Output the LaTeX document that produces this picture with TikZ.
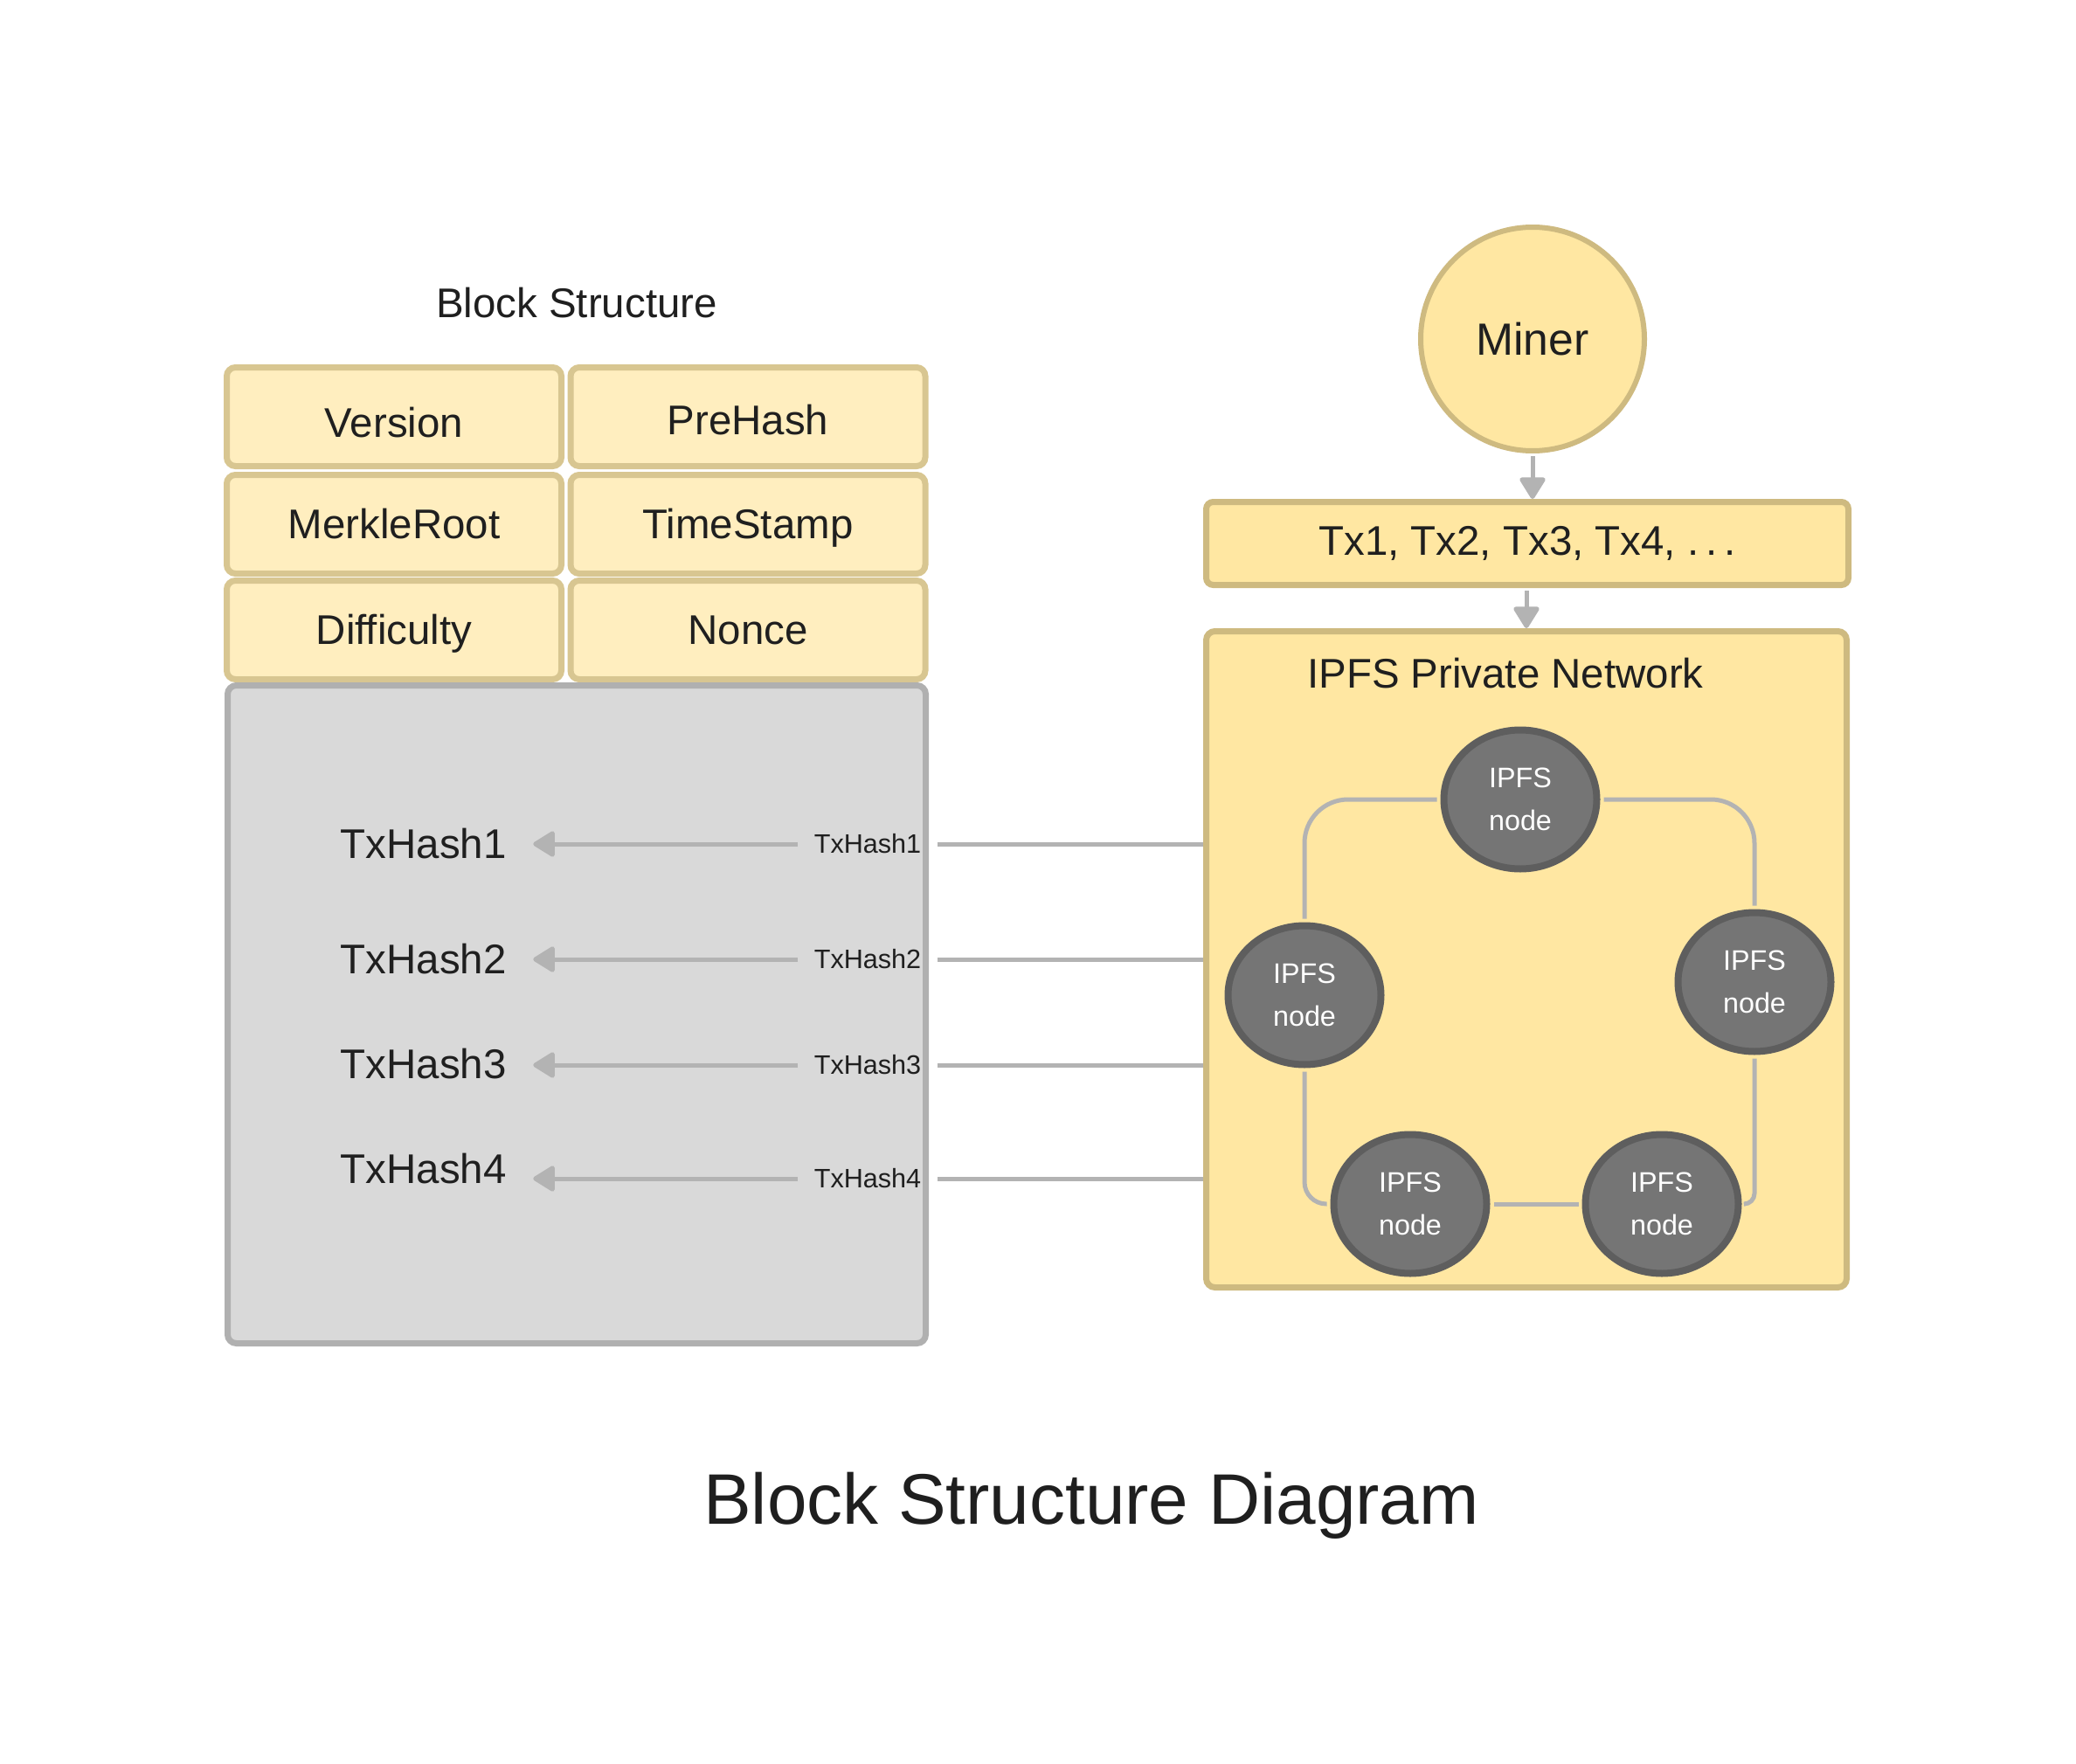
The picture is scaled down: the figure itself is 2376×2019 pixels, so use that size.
\documentclass[tikz,border=0pt]{standalone}
\usepackage{fontspec}
\setmainfont{Liberation Sans}
\usepackage{xcolor}
\usepackage{tikz}
\usetikzlibrary{shapes}
\usetikzlibrary{arrows.meta, positioning}

\definecolor{fieldfill}{HTML}{FFEEBF}
\definecolor{fieldline}{HTML}{D8C691}
\definecolor{netfill}{HTML}{FFE7A2}
\definecolor{netline}{HTML}{CEBA80}
\definecolor{bodyfill}{HTML}{D9D9D9}
\definecolor{bodyline}{HTML}{B0B0B0}
\definecolor{peerfill}{HTML}{757575}
\definecolor{peerline}{HTML}{5E5E5E}
\definecolor{linkgray}{HTML}{B3B3B3}
\definecolor{inkdark}{HTML}{1F1F1F}

\newcommand{\mainsize}{\fontsize{13.5pt}{16pt}\selectfont}
\newcommand{\smallsize}{\fontsize{8.7pt}{10pt}\selectfont}

\tikzset{
    plain/.style = {text=inkdark, font=\mainsize, inner sep=0pt},
    field/.style = {draw=fieldline, fill=fieldfill, line width=0.7mm, rounded corners=1mm,
                    minimum height=11.3mm, text=inkdark, font=\mainsize,
                    text height=1.8ex, text depth=0.07ex},
    txbody/.style = {draw=bodyline, fill=bodyfill, line width=0.7mm, rounded corners=1mm,
                     minimum width=79.9mm, minimum height=75.3mm},
    hash/.style = {plain, anchor=west, text height=1.7ex, text depth=0.07ex},
    hashlabel/.style = {text=inkdark, font=\smallsize, inner xsep=1.8mm, inner ysep=0pt},
    miner/.style = {circle, draw=netline, fill=netfill, line width=0.6mm, minimum size=25.6mm,
                    text=inkdark, font=\fontsize{14.7pt}{17pt}\selectfont},
    txlist/.style = {draw=netline, fill=netfill, line width=0.7mm, rounded corners=0.8mm,
                     minimum width=73.5mm, minimum height=9.5mm, text=inkdark, font=\mainsize},
    network/.style = {draw=netline, fill=netfill, line width=0.7mm, rounded corners=1mm,
                      minimum width=73.3mm, minimum height=75.1mm},
    peer/.style = {ellipse, draw=peerline, fill=peerfill, line width=0.8mm, inner sep=0pt,
                   minimum width=17.5mm, minimum height=15.9mm, text=white, align=center,
                   font=\fontsize{9.2pt}{13.9pt}\selectfont},
    flow/.style = {draw=linkgray, line width=0.5mm, -{Triangle[length=2.7mm, width=3.2mm, round]}},
    link/.style = {draw=linkgray, line width=0.5mm},
    ring/.style = {draw=linkgray, line width=0.5mm, shorten <=0.4mm, shorten >=0.4mm}
}

\begin{document}
\begin{tikzpicture}[x=0.1mm, y=-0.1mm]
    \useasboundingbox (0,0) rectangle (2376,2019);

    % block structure
    \node (head) at (660,347) [plain] {Block Structure};
    \node (ver) at (451,477) [field, minimum width=38.3mm, text height=2.65ex] {Version};
    \node (pre) at (856,477) [field, minimum width=40.6mm, text height=2.3ex] {PreHash};
    \node (merkle) at (451,600) [field, minimum width=38.3mm] {MerkleRoot};
    \node (stamp) at (856,600) [field, minimum width=40.6mm] {TimeStamp};
    \node (diff) at (451,721) [field, minimum width=38.3mm] {Difficulty};
    \node (nonce) at (856,721) [field, minimum width=40.6mm] {Nonce};
    \node (body) at (660,1161) [txbody] {};

    \node (h1) at (389,967) [hash] {TxHash1};
    \node (h2) at (389,1099) [hash] {TxHash2};
    \node (h3) at (389,1219) [hash] {TxHash3};
    \node (h4) at (389,1339) [hash] {TxHash4};
    \node (l1) at (993,966) [hashlabel] {TxHash1};
    \node (l2) at (993,1098) [hashlabel] {TxHash2};
    \node (l3) at (993,1219) [hashlabel] {TxHash3};
    \node (l4) at (993,1349) [hashlabel] {TxHash4};

    % miner and network
    \node (miner) at (1754,388) [miner] {Miner};
    \node (txs) at (1748,622) [txlist] {Tx1, Tx2, Tx3, Tx4, .\,.\,.};
    \node (ipfs) at (1747,1098) [network] {};
    \node (nettitle) at (1723,771) [plain] {IPFS Private Network};
    \node (n1) at (1740,915) [peer] {IPFS\\node};
    \node (n2) at (1493,1139) [peer] {IPFS\\node};
    \node (n3) at (2008,1124) [peer] {IPFS\\node};
    \node (n4) at (1614,1378) [peer] {IPFS\\node};
    \node (n5) at (1902,1378) [peer] {IPFS\\node};

    \draw [ring, rounded corners=5mm] (n1.west) -| (n2.north);
    \draw [ring, rounded corners=5mm] (n1.east) -| (n3.north);
    \draw [ring, rounded corners=1.2mm] (n3.south) |- (n5.east);
    \draw [ring, rounded corners=2.5mm] (n2.south) |- (n4.west);
    \draw [ring] (n5.west) -- (n4.east);

    \draw [flow, shorten <=0.3mm] (miner.south) -- (miner.south |- txs.north);
    \draw [flow, shorten <=0.3mm] (txs.south -| ipfs.north) -- (ipfs.north);

    \foreach \i in {1,...,4} {
        \draw [link] (ipfs.west |- l\i.east) -- (l\i.east);
        \draw [flow, shorten >=3mm] (l\i.west) -- (l\i.west -| h\i.east);
    }

    \node (caption) at (1249,1723) [plain, font=\fontsize{23.3pt}{27pt}\selectfont] {Block Structure Diagram};
\end{tikzpicture}
\end{document}
